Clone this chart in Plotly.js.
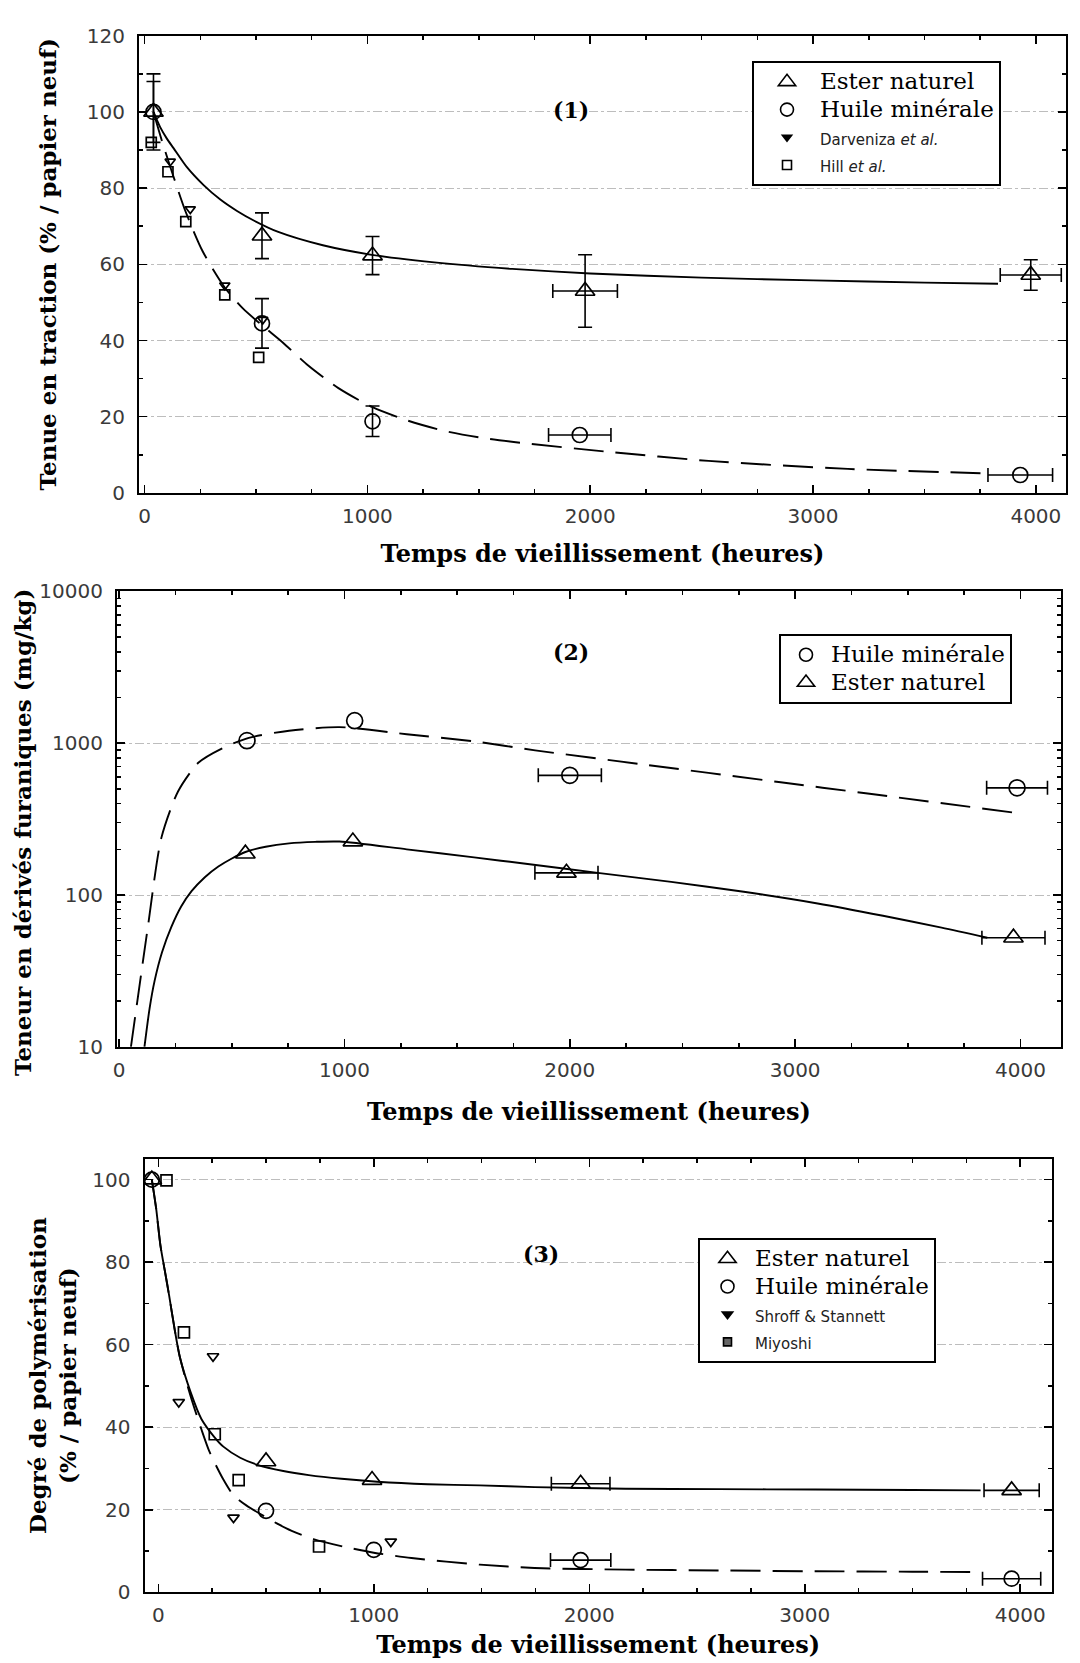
<!DOCTYPE html>
<html><head><meta charset="utf-8">
<script src="https://cdn.plot.ly/plotly-3.0.1.min.js"></script>
<style>html,body{margin:0;padding:0;background:#fff;}</style>
</head><body>
<div id="chart" style="width:1080px;height:1663px;"></div>
<script>
// ---------- Panel (1): Tenue en traction ----------
const p1EsterT    = [40, 527, 1023, 1977, 3977];
const p1EsterY    = [100, 67.5, 62.3, 53, 57.2];
const p1EsterErrY = [10, 6, 5, 9.5, 4];
const p1EsterErrX = [NaN, NaN, NaN, 145, 137];
const p1HuileT    = [40, 527, 1023, 1953, 3930];
const p1HuileY    = [100, 44.5, 18.8, 15.2, 4.7];
const p1HuileErrY = [8, 6.5, 4, NaN, NaN];
const p1HuileErrX = [NaN, NaN, NaN, 140, 145];
const p1DarvT = [115, 205, 360, 530];
const p1DarvY = [87, 74.5, 54.5, 45.5];
const p1HillT = [30, 105, 185, 360, 512];
const p1HillY = [92, 84.3, 71.2, 52, 35.6];
const p1FitEsterT = [40, 70, 100, 130, 190, 265, 340, 415, 490, 600, 800, 1020, 1300, 1650, 2000, 2500, 3000, 3500, 3830];
const p1FitEsterY = [100, 96, 93, 90.5, 85.5, 80.8, 77, 74, 71.5, 68.5, 65, 62.5, 60.5, 58.8, 57.6, 56.5, 55.8, 55.2, 54.9];
const p1FitHuileT = [40, 80, 130, 183, 260, 359, 440, 527, 620, 733, 870, 1023, 1180, 1344, 1520, 1710, 2063, 2531, 3156, 3800];
const p1FitHuileY = [100, 92, 83, 74, 63.5, 54, 48.5, 44, 39.5, 33.5, 27.5, 22.5, 19, 16.3, 14.4, 13, 10.9, 8.4, 6.3, 5.1];

// ---------- Panel (2): Dérivés furaniques ----------
const p2HuileT    = [567, 1045, 2000, 3985];
const p2HuileY    = [1039, 1406, 614, 508];
const p2HuileErrX = [NaN, NaN, 140, 135];
const p2EsterT    = [560, 1037, 1985, 3969];
const p2EsterY    = [187, 225, 140, 52.3];
const p2EsterErrX = [NaN, NaN, 140, 140];
const p2FitHuileT = [52, 82, 127, 187, 261, 351, 455, 575, 754, 978, 1276, 1575, 1846, 2309, 2927, 3313, 3977];
const p2FitHuileY = [10, 20.8, 61.4, 238, 481, 743, 922, 1084, 1208, 1276, 1146, 1028, 897, 730, 555, 468, 348];
const p2FitEsterT = [112, 135, 157, 190, 231, 275, 321, 380, 440, 500, 560, 650, 754, 870, 978, 1276, 1575, 1813, 2124, 2450, 2772, 3100, 3390, 3650, 3853];
const p2FitEsterY = [10, 18, 27.2, 42, 61.4, 84, 106, 131, 154, 174, 192, 208, 219, 224, 225, 200, 177, 160, 140, 122, 105, 88, 73, 61, 52.3];

// ---------- Panel (3): Degré de polymérisation ----------
const p3EsterT    = [-30, 500, 992, 1960, 3960];
const p3EsterY    = [100, 31.7, 27.2, 26.3, 24.7];
const p3EsterErrX = [NaN, NaN, NaN, 136, 128];
const p3HuileT    = [-30, 500, 1000, 1960, 3960];
const p3HuileY    = [100, 19.75, 10.3, 7.8, 3.3];
const p3HuileErrX = [NaN, NaN, NaN, 140, 135];
const p3ShroffT = [95, 254, 349, 1079];
const p3ShroffY = [46.1, 57.2, 18.1, 12.3];
const p3MiyoshiT = [38, 119, 262, 373, 746];
const p3MiyoshiY = [99.8, 63, 38.3, 27.2, 11.1];
const p3FitEsterT = [-30, -10, 10, 30, 50, 75, 100, 150, 200, 262, 302, 380, 460, 580, 698, 850, 1016, 1250, 1492, 1746, 2168, 2600, 3048, 3500, 3816];
const p3FitEsterY = [100, 93, 84, 78, 72, 64, 57, 48.5, 42, 37.5, 35.3, 32.6, 30.9, 29.4, 28.4, 27.5, 26.8, 26.2, 25.9, 25.5, 25.1, 25.0, 24.9, 24.8, 24.7];
const p3FitHuileT = [-30, -10, 10, 30, 50, 75, 100, 150, 200, 238, 300, 349, 410, 476, 550, 619, 720, 857, 1000, 1175, 1492, 1746, 2168, 2600, 3048, 3500, 3800];
const p3FitHuileY = [100, 93, 84, 78, 72, 64, 57, 47.5, 39.5, 34, 27.5, 23.5, 21, 18.9, 16.7, 14.9, 12.9, 11.1, 9.6, 8.3, 6.7, 5.9, 5.5, 5.3, 5.1, 5.0, 4.9];

// ---------- Text ----------
const xTitle = 'Temps de vieillissement (heures)';
const y1Title = 'Tenue en traction (% / papier neuf)';
const y2Title = 'Teneur en dérivés furaniques (mg/kg)';
const y3Title = 'Degré de polymérisation<br>(% / papier neuf)';
const big = s => '<span style="font-size:23px">' + s + '</span>';
const small = s => '<span style="font-family:DejaVu Sans;font-size:15px;fill:#222">' + s + '</span>';
const nEster = big('Ester naturel');
const nHuile = big('Huile minérale');
const nDarv = small('Darveniza <i>et al.</i>');
const nHill = small('Hill <i>et al.</i>');
const nShroff = small('Shroff &amp; Stannett');
const nMiyoshi = small('Miyoshi');

const SERIF = 'DejaVu Serif';
const DASH = '30px,12px';
const K = 'black';

function errBar(arr) {
  return {type: 'data', array: arr, visible: true, color: K, thickness: 1.6, width: 7};
}
function fit(x, y, xa, ya, dash) {
  return {x: x, y: y, xaxis: xa, yaxis: ya, mode: 'lines', showlegend: false, hoverinfo: 'skip',
          line: {color: K, width: 1.9, dash: dash, shape: 'spline', smoothing: 0.7}};
}
function pts(x, y, xa, ya, sym, size, opts) {
  const t = {x: x, y: y, xaxis: xa, yaxis: ya, mode: 'markers', showlegend: false,
    marker: {symbol: sym, size: size, color: K, line: {color: K, width: 1.7}}};
  return Object.assign(t, opts || {});
}
function leg(name, sym, size, legend, fill) {
  return {x: [null], y: [null], xaxis: 'x', yaxis: 'y', mode: 'markers', name: name, legend: legend,
    showlegend: true, marker: {symbol: sym, size: size, color: fill || K, line: {color: K, width: 1.6}}};
}

const traces = [
  // Panel 1
  fit(p1FitEsterT, p1FitEsterY, 'x', 'y', 'solid'),
  fit(p1FitHuileT, p1FitHuileY, 'x', 'y', DASH),
  pts(p1HillT, p1HillY, 'x', 'y', 'square-open', 10),
  pts(p1DarvT, p1DarvY, 'x', 'y', 'triangle-down-open', 9),
  pts(p1EsterT, p1EsterY, 'x', 'y', 'triangle-up-open', 17, {error_y: errBar(p1EsterErrY), error_x: errBar(p1EsterErrX)}),
  pts(p1HuileT, p1HuileY, 'x', 'y', 'circle-open', 15, {error_y: errBar(p1HuileErrY), error_x: errBar(p1HuileErrX)}),
  leg(nEster, 'triangle-up-open', 15, 'legend'),
  leg(nHuile, 'circle-open', 13, 'legend'),
  leg(nDarv, 'triangle-down', 8, 'legend'),
  leg(nHill, 'square-open', 9, 'legend'),
  // Panel 2
  fit(p2FitHuileT, p2FitHuileY, 'x2', 'y2', DASH),
  fit(p2FitEsterT, p2FitEsterY, 'x2', 'y2', 'solid'),
  pts(p2HuileT, p2HuileY, 'x2', 'y2', 'circle-open', 16, {error_x: errBar(p2HuileErrX)}),
  pts(p2EsterT, p2EsterY, 'x2', 'y2', 'triangle-up-open', 17, {error_x: errBar(p2EsterErrX)}),
  leg(nHuile, 'circle-open', 13, 'legend2'),
  leg(nEster, 'triangle-up-open', 15, 'legend2'),
  // Panel 3
  fit(p3FitEsterT, p3FitEsterY, 'x3', 'y3', 'solid'),
  fit(p3FitHuileT, p3FitHuileY, 'x3', 'y3', DASH),
  pts(p3MiyoshiT, p3MiyoshiY, 'x3', 'y3', 'square-open', 11),
  pts(p3ShroffT, p3ShroffY, 'x3', 'y3', 'triangle-down-open', 10),
  pts(p3EsterT, p3EsterY, 'x3', 'y3', 'triangle-up-open', 17, {error_x: errBar(p3EsterErrX)}),
  pts(p3HuileT, p3HuileY, 'x3', 'y3', 'circle-open', 15, {error_x: errBar(p3HuileErrX)}),
  leg(nEster, 'triangle-up-open', 15, 'legend3'),
  leg(nHuile, 'circle-open', 13, 'legend3'),
  leg(nShroff, 'triangle-down', 9, 'legend3'),
  leg(nMiyoshi, 'square', 8, 'legend3', '#666')
];

const tickFont = {family: 'DejaVu Sans', size: 20, color: '#3a3a3a'};
const yTitleFont = {family: SERIF, size: 23, color: K, weight: 'bold'};
const xTitleFont = {family: SERIF, size: 24, color: K, weight: 'bold'};
function xAx(domain, range, anchor, standoff) {
  return {domain: domain, range: range, anchor: anchor, dtick: 1000, tick0: 0,
    ticks: 'inside', ticklen: 8, tickwidth: 1.5, tickcolor: K,
    minor: {dtick: 250, ticks: 'inside', ticklen: 4, tickcolor: K},
    showline: true, linewidth: 2, linecolor: K, mirror: 'ticks', zeroline: false, showgrid: false,
    tickfont: tickFont, ticklabelstandoff: 4,
    title: {text: xTitle, font: xTitleFont, standoff: standoff}};
}
function yAx(domain, range, anchor, extra) {
  return Object.assign({domain: domain, range: range, anchor: anchor,
    ticks: 'inside', ticklen: 8, tickwidth: 1.5, tickcolor: K,
    showline: true, linewidth: 2, linecolor: K, mirror: 'ticks', zeroline: false,
    showgrid: true, gridcolor: '#bdbdbd', gridwidth: 1, griddash: 'dashdot',
    tickfont: tickFont, ticklabelstandoff: 8}, extra);
}
function legendBox(x, y, iw) {
  return {x: x, y: y, xanchor: 'left', yanchor: 'top', xref: 'paper', yref: 'paper',
    bgcolor: 'white', bordercolor: K, borderwidth: 2, itemwidth: iw,
    font: {family: SERIF, size: 19, color: K}, tracegroupgap: 0, traceorder: 'normal',
    itemclick: false, itemdoubleclick: false};
}
const annFont = {family: SERIF, size: 22, weight: 'bold', color: K};

const layout = {
  width: 1080, height: 1663,
  margin: {l: 0, r: 0, t: 0, b: 0},
  paper_bgcolor: 'white', plot_bgcolor: 'white',
  showlegend: true,
  xaxis:  xAx([0.1287, 0.987], [-25, 4135], 'y', 18),
  yaxis:  yAx([0.7036, 0.9785], [0, 120], 'x', {dtick: 20, minor: {dtick: 10, ticks: 'inside', ticklen: 4, tickcolor: K},
           title: {text: y1Title, font: yTitleFont, standoff: 24}}),
  xaxis2: xAx([0.1083, 0.9824], [-10, 4180], 'y2', 22),
  yaxis2: yAx([0.3705, 0.6444], [1, 4], 'x2', {type: 'log', dtick: 1, tickformat: 'd',
           minor: {dtick: 'D1', ticks: 'inside', ticklen: 4, tickcolor: K}}),
  xaxis3: xAx([0.1338, 0.974], [-64, 4147], 'y3', 10),
  yaxis3: yAx([0.0425, 0.3031], [0, 105], 'x3', {dtick: 20, minor: {dtick: 10, ticks: 'inside', ticklen: 4, tickcolor: K},
           title: {text: y3Title, font: yTitleFont, standoff: 9}}),
  legend:  legendBox(0.6963, 0.9633, 56),
  legend2: legendBox(0.7213, 0.6188, 40),
  legend3: legendBox(0.6463, 0.2556, 45),
  annotations: [
    {text: '(1)', x: 0.5287, y: 0.9429, xref: 'paper', yref: 'paper', showarrow: false, font: annFont},
    {text: '(2)', x: 0.5287, y: 0.6079, xref: 'paper', yref: 'paper', showarrow: false, font: annFont},
    {text: '(3)', x: 0.5009, y: 0.2369, xref: 'paper', yref: 'paper', showarrow: false, font: annFont},
    {text: y2Title, x: 23 / 1080, y: 1 - 833 / 1663, xref: 'paper', yref: 'paper', showarrow: false,
     textangle: -90, xanchor: 'center', yanchor: 'middle', font: yTitleFont}
  ]
};

Plotly.newPlot('chart', traces, layout, {staticPlot: true, displayModeBar: false});
</script>
</body></html>
